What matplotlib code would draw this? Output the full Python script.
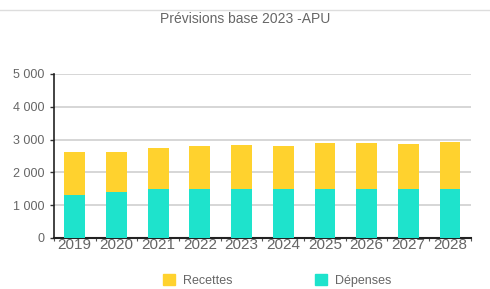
import numpy as np
import matplotlib.pyplot as plt
from matplotlib.patches import Patch
from matplotlib.ticker import FuncFormatter

years = ["2019", "2020", "2021", "2022", "2023", "2024", "2025", "2026", "2027", "2028"]
depenses = [1310, 1390, 1480, 1480, 1480, 1480, 1480, 1480, 1480, 1480]
recettes = [1320, 1240, 1270, 1315, 1355, 1335, 1405, 1405, 1400, 1445]

yellow = "#FFD22E"
teal = "#1EE3CC"
grey = "#666666"

plt.rcParams['font.family'] = ['Liberation Sans', 'DejaVu Sans']

fig = plt.figure(figsize=(4.9, 2.89), dpi=100)
ax = fig.add_axes([0.110, 0.1765, 0.851, 0.5675])

x = np.arange(len(years))
ax.bar(x, depenses, width=0.5, color=teal, zorder=3)
ax.bar(x, recettes, width=0.5, bottom=depenses, color=yellow, zorder=3)

ax.set_xlim(-0.5, len(years) - 0.5)
ax.set_ylim(0, 5000)
ax.set_yticks(range(0, 5001, 1000))
ax.yaxis.set_major_formatter(FuncFormatter(lambda v, p: f"{int(v):,}".replace(",", " ")))
ax.grid(axis="y", color="#d0d0d0", linewidth=1.2, zorder=0)

ax.set_xticks(x)
ax.set_xticklabels(years)
ax.set_xticks(np.arange(-0.5, len(years), 1), minor=True)
ax.tick_params(axis="x", which="major", length=0, pad=0, labelsize=11, labelcolor=grey)
ax.tick_params(axis="x", which="minor", length=2, width=0.8, color="#555555")
ax.tick_params(axis="y", length=3, width=1, color="#333333", labelsize=9, labelcolor=grey, pad=4)

for s in ["top", "right"]:
    ax.spines[s].set_visible(False)
ax.spines["left"].set_color("#222222")
ax.spines["left"].set_linewidth(1.2)
ax.spines["bottom"].set_color("#222222")
ax.spines["bottom"].set_linewidth(1.5)

fig.text(0.5, 0.935, "Prévisions base 2023 -APU", ha="center", va="center",
         fontsize=10, color=grey)

# faint spreadsheet line at the very top
fig.add_artist(plt.Line2D([0, 1], [0.965, 0.965], color="#dddddd", linewidth=1,
                          transform=fig.transFigure))

handles = [Patch(color=yellow), Patch(color=teal)]
fig.legend(handles, ["Recettes", "Dépenses"], loc="center", bbox_to_anchor=(0.565, 0.03),
           ncol=2, frameon=False, fontsize=9, handlelength=1.0, handleheight=1.0,
           columnspacing=6.6, handletextpad=0.6, labelcolor=grey)

fig.savefig("out.png", dpi=100)
